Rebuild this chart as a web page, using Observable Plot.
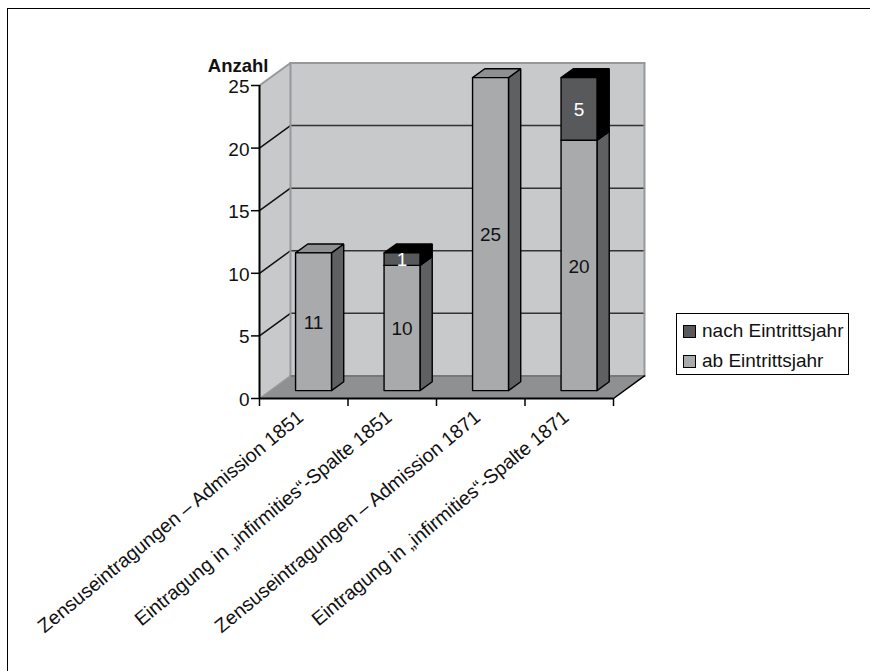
<!DOCTYPE html>
<html>
<head>
<meta charset="utf-8">
<script src="https://cdn.jsdelivr.net/npm/d3@7"></script>
<script src="https://cdn.jsdelivr.net/npm/@observablehq/plot@0.6"></script>
<style>
  html, body { margin: 0; padding: 0; background: #fff; }
  #page { position: relative; width: 870px; height: 671px; overflow: hidden; font-family: "Liberation Sans", Arial, sans-serif; }
  #page svg { position: absolute; left: 0; top: 0; }
  #border { position: absolute; left: 7px; top: 8px; width: 870px; height: 680px; border-left: 1.5px solid #000; border-top: 1.5px solid #000; box-sizing: border-box; }
  #legend { position: absolute; left: 676px; top: 313px; width: 173px; height: 62px; border: 1px solid #000; box-sizing: border-box; background: #fff; color: #111; font-size: 19px; }
  #legend div { position: absolute; left: 25px; white-space: nowrap; line-height: 22px; }
  #legend i { position: absolute; left: -19px; top: 4.5px; width: 13px; height: 13px; border: 1px solid #000; box-sizing: border-box; }
</style>
</head>
<body>
<div id="page"><div id="border"></div></div>
<script>
const categories = [
  "Zensuseintragungen – Admission 1851",
  "Eintragung in „infirmities“-Spalte 1851",
  "Zensuseintragungen – Admission 1871",
  "Eintragung in „infirmities“-Spalte 1871"
];
const abEintrittsjahr = [11, 10, 25, 20];
const nachEintrittsjahr = [0, 1, 0, 5];
const yTicks = [0, 5, 10, 15, 20, 25];
const seriesNames = ["nach Eintrittsjahr", "ab Eintrittsjahr"];

// Oblique projection: a unit of depth shifts a point by these data-unit amounts.
const depthX = 0.35;
const depthY = 1.8;
const project = (c, v, d = 0) => ({x: c + d * depthX, y: v + d * depthY});

// Bars sit part way into the floor and are about 0.4 categories wide.
const barHalf = 0.203;
const barShift = -0.012;
const barFront = 0.35;
const barBack = 0.745;

const colors = {
  wall: "#c8c9cb", floor: "#8f9092", wallEdge: "#97989a",
  lightFront: "#a9aaac", lightTop: "#8f9092", lightSide: "#5f6062",
  darkFront: "#58595b", darkTop: "#000000", darkSide: "#000000"
};

// Closed polygon drawn through the x and y scales.
const poly = (pts, fill, stroke = "none", strokeWidth = 1.4) =>
  Plot.line([...pts, pts[0]], {x: "x", y: "y", fill, stroke, strokeWidth, strokeLinejoin: "miter"});
const seg = (a, b, stroke, strokeWidth = 1.5) =>
  Plot.line([a, b], {x: "x", y: "y", stroke, strokeWidth});

const n = categories.length;
const marks = [];

// Walls and floor
marks.push(poly([project(0, 0), project(0, 25), project(0, 25, 1), project(0, 0, 1)], colors.wall));
marks.push(poly([project(0, 0, 1), project(0, 25, 1), project(n, 25, 1), project(n, 0, 1)], colors.wall));
marks.push(poly([project(0, 0), project(n, 0), project(n, 0, 1), project(0, 0, 1)], colors.floor));

// Gridlines continue from the side wall over the back wall
for (const t of yTicks.slice(1, -1)) {
  marks.push(seg(project(0, t), project(0, t, 1), "#111"));
  marks.push(seg(project(0, t, 1), project(n, t, 1), "#333"));
}

// Wall outlines
marks.push(seg(project(0, 25), project(0, 25, 1), colors.wallEdge, 2));
marks.push(seg(project(0, 25, 1), project(n, 25, 1), colors.wallEdge, 2));
marks.push(seg(project(0, 0, 1), project(0, 25, 1), colors.wallEdge, 2));
marks.push(seg(project(n, 0, 1), project(n, 25, 1), colors.wallEdge, 2));
marks.push(seg(project(0, 0, 1), project(n, 0, 1), "#77787a", 2));
marks.push(seg(project(0, 0), project(0, 0, 1), colors.wallEdge, 1.5));
marks.push(seg(project(n, 0), project(n, 0, 1), "#000", 1.5));

// One stacked segment: side, top and front faces
function segment(c, v0, v1, front, top, side) {
  const l = c + 0.5 + barShift - barHalf, r = c + 0.5 + barShift + barHalf;
  marks.push(poly([project(r, v0, barFront), project(r, v0, barBack), project(r, v1, barBack), project(r, v1, barFront)], side, "#000"));
  marks.push(poly([project(l, v1, barFront), project(r, v1, barFront), project(r, v1, barBack), project(l, v1, barBack)], top, "#000"));
  marks.push(poly([project(l, v0, barFront), project(r, v0, barFront), project(r, v1, barFront), project(l, v1, barFront)], front, "#000"));
}
categories.forEach((_, i) => {
  segment(i, 0, abEintrittsjahr[i], colors.lightFront, colors.lightTop, colors.lightSide);
  if (nachEintrittsjahr[i] > 0) {
    segment(i, abEintrittsjahr[i], abEintrittsjahr[i] + nachEintrittsjahr[i], colors.darkFront, colors.darkTop, colors.darkSide);
  }
});

// Value labels centred on each front face
const labels = [];
categories.forEach((_, i) => {
  const a = abEintrittsjahr[i], b = nachEintrittsjahr[i];
  labels.push({...project(i + 0.5 + barShift, a / 2, barFront), t: a, fill: "#111"});
  if (b > 0) labels.push({...project(i + 0.5 + barShift, a + b / 2, barFront), t: b, fill: "#fff"});
});

const chart = Plot.plot({
  width: 870, height: 671,
  marginLeft: 259, marginRight: 257, marginTop: 85, marginBottom: 273,
  style: {fontFamily: '"Liberation Sans", Arial, sans-serif', background: "transparent", overflow: "visible"},
  x: {domain: [0, n], axis: null},
  y: {domain: [0, 25], axis: null},
  marks: [
    ...marks,
    Plot.text(labels, {x: "x", y: "y", text: "t", fill: "fill", fontSize: 19, dy: 1}),
    Plot.axisY({ticks: yTicks, tickSize: 8, tickFormat: () => "", stroke: "#000", strokeWidth: 1.5, label: null}),
    Plot.text(yTicks, {x: 0, y: d => d, text: d => String(d), textAnchor: "end", dx: -10, dy: 1.5, fontSize: 19, fill: "#111"}),
    Plot.ruleX([0], {y1: 0, y2: 25, stroke: "#000", strokeWidth: 2}),
    Plot.axisX({ticks: d3.range(n + 1), tickSize: 8, tickFormat: () => "", stroke: "#000", strokeWidth: 1.5, label: null}),
    Plot.ruleY([0], {x1: 0, x2: n, stroke: "#000", strokeWidth: 2}),
    Plot.text(categories, {
      x: (_, i) => i + 0.5, y: 0, text: d => d,
      textAnchor: "end", rotate: -39.5, dx: -3, dy: 16, fontSize: 19.5, fill: "#111"
    }),
    Plot.text(["Anzahl"], {x: 0, y: 25, text: d => d, textAnchor: "end", dx: 9, dy: -19, fontSize: 18.5, fontWeight: "bold", fill: "#111"})
  ]
});
document.getElementById("page").appendChild(chart);

// Legend box
const legend = document.createElement("div");
legend.id = "legend";
seriesNames.forEach((name, i) => {
  const row = document.createElement("div");
  row.style.top = (i === 0 ? 6 : 36) + "px";
  row.textContent = name;
  const sw = document.createElement("i");
  sw.style.background = i === 0 ? colors.darkFront : colors.lightFront;
  row.appendChild(sw);
  legend.appendChild(row);
});
document.getElementById("page").appendChild(legend);
</script>
</body>
</html>
